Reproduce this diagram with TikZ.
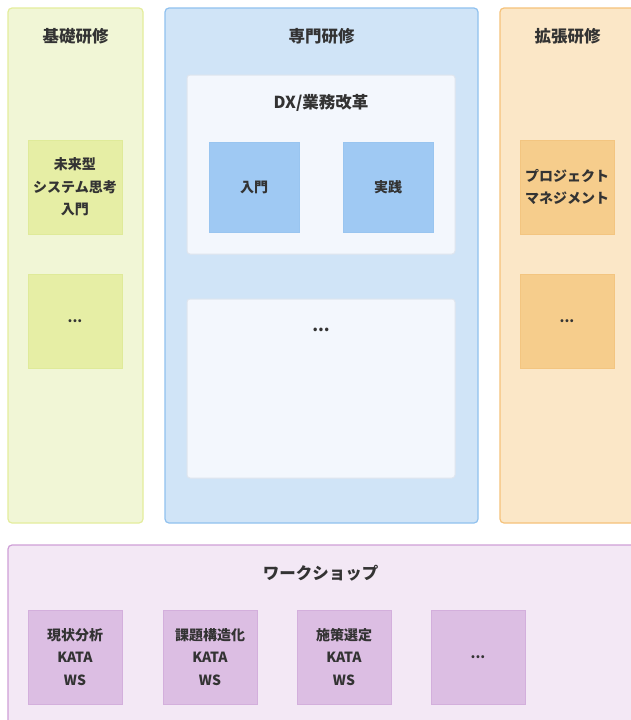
\documentclass[tikz,border=0pt]{standalone}
\usepackage{fontspec}
\setmainfont{Noto Sans CJK JP}
\definecolor{txt}{HTML}{333333}
\definecolor{gfill}{HTML}{F1F6D6}\definecolor{gline}{HTML}{E4ED9C}
\definecolor{gbox}{HTML}{E6EEA5}\definecolor{gboxl}{HTML}{DFEA99}
\definecolor{bfill}{HTML}{D0E4F7}\definecolor{bline}{HTML}{90C1EF}
\definecolor{pfill}{HTML}{F3F7FD}\definecolor{pline}{HTML}{DFE5EE}
\definecolor{bbox}{HTML}{9FC9F3}\definecolor{bboxl}{HTML}{99C5F0}
\definecolor{ofill}{HTML}{FBE7C7}\definecolor{oline}{HTML}{F5C27A}
\definecolor{obox}{HTML}{F6CD8C}\definecolor{oboxl}{HTML}{F3C580}
\definecolor{mfill}{HTML}{F3E8F5}\definecolor{mline}{HTML}{CF9FD7}
\definecolor{mbox}{HTML}{DCBEE3}\definecolor{mboxl}{HTML}{D3AFDC}
\tikzset{
  cont/.style={draw=#1, line width=1.2pt, rounded corners=4pt, inner sep=0pt},
  ttl/.style={text=txt, font=\fontsize{16.5}{20}\selectfont\bfseries},
  item/.style={draw=#1, line width=1pt, minimum width=94pt, minimum height=94pt, inner sep=0pt,
    align=center, text=txt, font=\fontsize{14}{22.5}\selectfont\bfseries},
  panel/.style={draw=pline, fill=pfill, line width=1pt, rounded corners=3pt, minimum width=268pt, minimum height=179pt, inner sep=0pt},
}
\begin{document}
\begin{tikzpicture}[x=1pt,y=-1pt]
\useasboundingbox (0,0) rectangle (631,720);
\fill[white] (0,0) rectangle (631,720);
% containers
\node[cont=gline, fill=gfill, minimum width=135pt, minimum height=515pt] (basic) at (75.5,265.5) {};
\node[cont=bline, fill=bfill, minimum width=313pt, minimum height=515pt] (spec) at (321.5,265.5) {};
\node[cont=oline, fill=ofill, minimum width=150pt, minimum height=515pt] (ext) at (575,265.5) {};
\node[cont=mline, fill=mfill, minimum width=640pt, minimum height=200pt] (ws) at (328,645) {};
% titles
\node[ttl] (basicT) at (75.5,36) {基礎研修};
\node[ttl] (specT) at (321.5,36) {専門研修};
\node[ttl] (extT) at (567.5,36) {拡張研修};
\node[ttl] (wsT) at (320.5,573) {ワークショップ};
% basic items
\node[item=gboxl, fill=gbox] (b1) at (75,187) {未来型\\システム思考\\入門};
\node[item=gboxl, fill=gbox] (b2) at (75,321) {...};
% specialist panels
\node[panel] (dx) at (321,164.5) {};
\node[ttl] (dxT) at (321,103) {DX/業務改革};
\node[item=bboxl, fill=bbox, minimum width=90pt, minimum height=90pt] (s1) at (254,187) {入門};
\node[item=bboxl, fill=bbox, minimum width=90pt, minimum height=90pt] (s2) at (388,187) {実践};
\node[panel] (more) at (321,388.5) {};
\node[ttl] (moreT) at (321,330) {...};
% extension items
\node[item=oboxl, fill=obox] (e1) at (567,187) {プロジェクト\\マネジメント};
\node[item=oboxl, fill=obox] (e2) at (567,321) {...};
% workshop items
\node[item=mboxl, fill=mbox] (w1) at (75,657) {現状分析\\KATA\\WS};
\node[item=mboxl, fill=mbox] (w2) at (210,657) {課題構造化\\KATA\\WS};
\node[item=mboxl, fill=mbox] (w3) at (344,657) {施策選定\\KATA\\WS};
\node[item=mboxl, fill=mbox] (w4) at (478,657) {...};
\end{tikzpicture}
\end{document}
